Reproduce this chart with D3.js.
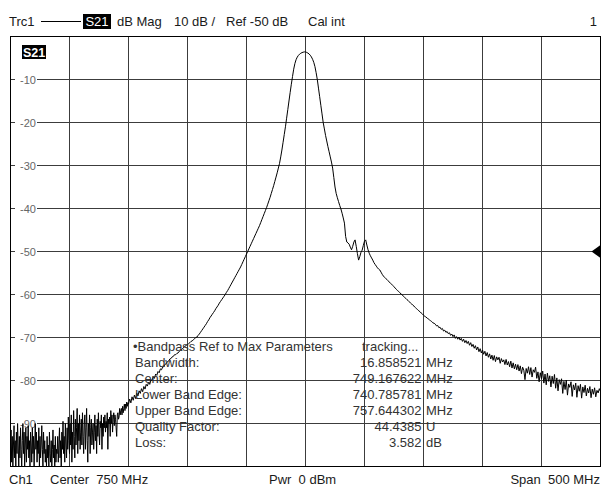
<!DOCTYPE html>
<html><head><meta charset="utf-8">
<script src="https://cdn.jsdelivr.net/npm/d3@7"></script>
<style>
body{margin:0;background:#fff}
svg{display:block}
text{font-family:"Liberation Sans",Arial,sans-serif}
</style>
</head><body>
<svg id="c" width="603" height="487"></svg>
<script>
// ---- data ----
const startMHz = 500;
const stopMHz = 1000;
// noisy low band, 500 .. 599.5 MHz in 0.5 MHz steps
const lowStartMHz = 500, lowStepMHz = 0.5;
const lowBandDb = [
-96,-91.5,-99,-93,-100,-95,-90.5,-98,-94,-100,-92,-97,-90,-95,-100,-93,-98,-91,-96,-100,
-94,-90,-97,-92,-100,-95,-91,-99,-93,-96,-90.5,-98,-94,-100,-92,-95,-99,-91,-97,-93,
-100,-95,-90,-96,-92,-99,-94,-97,-91,-100,-93,-98,-95,-90.5,-96,-100,-92,-97,-94,-99,
-96,-100,-93,-98,-95,-100,-92,-97,-99,-94,-100,-96,-91.5,-98,-95,-100,-93,-99,-96,-97,
-93,-99,-95,-91,-98,-94,-100,-92,-96,-89.5,-97,-93,-99,-90,-95,-98,-91,-96,-88.5,-94,
-97,-90,-95,-88,-99,-92,-96,-87,-93,-98,-89,-95,-91,-86.5,-97,-90,-94,-88,-96,-92,
-89,-95,-87.5,-93,-97,-90,-88,-96,-91,-86.5,-94,-99,-90,-93,-88,-97,-91,-89,-95,-92,
-90,-96,-92,-88,-94,-90.5,-97,-89,-93,-87.5,-92,-95,-89.5,-91,-88,-96,-90,-93,-88.5,-91,
-88,-92,-89.5,-91,-87.5,-96,-89,-90,-88.5,-93,-87,-90,-88,-92,-89,-87.5,-90.5,-88,-89,-91,
-93,-88,-87.5,-89,-88.5,-86.5,-88,-87,-86.5,-88,-86,-87.5,-86.5,-85.5,-87,-85.5,-86.5,-85,-86,-85.2
];
// main band, 600 .. 1000 MHz in 1 MHz steps
const mainStartMHz = 600, mainStepMHz = 1;
const mainBandDb = [
-85.5,-84.3,-85.2,-83.8,-84.6,-83.4,-84.2,-82.9,-83.6,-82.4,
-83.0,-81.9,-82.6,-81.4,-82.0,-80.9,-81.3,-80.4,-80.9,-79.9,
-79.9,-79.1,-79.5,-78.5,-78.8,-77.9,-78.2,-77.3,-77.5,-76.8,
-76.8,-76.2,-76.1,-75.6,-75.5,-75.0,-74.9,-74.5,-74.4,-74.0,
-74.0,-73.7,-73.6,-73.2,-73.0,-72.8,-72.5,-72.3,-72.0,-71.8,
-71.7,-71.4,-71.2,-70.9,-70.8,-70.5,-70.3,-70.0,-69.9,-69.5,
-69.2,-68.8,-68.4,-68.0,-67.6,-67.2,-66.8,-66.3,-65.9,-65.4,
-65.0,-64.6,-64.2,-63.8,-63.3,-62.9,-62.5,-62.0,-61.6,-61.2,
-60.8,-60.4,-60.0,-59.5,-59.1,-58.6,-58.1,-57.6,-57.1,-56.6,
-56.1,-55.6,-55.1,-54.6,-54.1,-53.6,-53.0,-52.4,-51.8,-51.2,
-50.6,-50.0,-49.4,-48.8,-48.2,-47.6,-47.0,-46.4,-45.8,-45.2,
-44.6,-44.0,-43.3,-42.6,-41.9,-41.2,-40.5,-39.8,-39.0,-38.2,
-37.4,-36.5,-35.6,-34.7,-33.7,-32.7,-31.7,-30.6,-29.5,-28.0,
-26.4,-24.6,-22.8,-21.0,-19.0,-17.0,-15.0,-13.0,-11.1,-9.3,
-7.6,-6.3,-5.4,-4.8,-4.4,-4.1,-3.9,-3.75,-3.65,-3.58,
-3.6,-3.7,-3.85,-4.05,-4.35,-4.75,-5.3,-6.0,-7.0,-8.4,
-10.0,-12.0,-14.0,-16.0,-18.0,-20.0,-21.5,-23.0,-24.3,-25.6,
-26.8,-28.0,-29.2,-30.6,-32.8,-35.0,-36.5,-37.5,-38.4,-39.3,
-40.1,-41.1,-42.2,-43.4,-46.5,-47.8,-48.0,-48.3,-49.0,-49.6,
-48.8,-47.8,-47.3,-48.8,-50.5,-52.0,-51.2,-50.2,-49.7,-48.6,
-47.6,-47.3,-48.5,-49.6,-50.4,-51.0,-51.5,-52.0,-52.6,-53.0,
-53.4,-53.8,-54.1,-54.3,-54.8,-55.3,-55.7,-56.0,-56.3,-56.5,
-56.8,-57.1,-57.4,-57.6,-57.9,-58.2,-58.5,-58.8,-59.1,-59.3,
-59.6,-59.9,-60.1,-60.4,-60.7,-60.9,-61.2,-61.4,-61.7,-62.0,
-62.2,-62.5,-62.7,-63.0,-63.3,-63.5,-63.8,-64.0,-64.3,-64.5,
-64.8,-65.0,-65.3,-65.4,-65.7,-65.9,-66.1,-66.3,-66.6,-66.7,
-66.9,-67.3,-67.2,-67.7,-67.6,-68.1,-67.9,-68.5,-68.3,-68.8,
-68.6,-69.1,-68.9,-69.5,-69.2,-69.8,-69.4,-70.2,-69.8,-70.4,
-69.9,-70.6,-70.2,-70.9,-70.4,-71.2,-70.7,-71.4,-70.9,-71.8,
-71.2,-72.1,-71.6,-72.5,-71.9,-72.9,-72.2,-73.3,-72.6,-73.6,
-72.9,-73.9,-73.2,-74.3,-73.5,-74.6,-73.8,-75.0,-74.1,-75.3,
-74.2,-75.6,-74.5,-75.2,-74.6,-76.0,-74.9,-75.7,-75.2,-76.3,
-75.1,-76.4,-75.6,-76.8,-75.5,-77.1,-75.9,-77.3,-76.2,-77.5,
-76.3,-77.8,-76.6,-78.4,-76.9,-77.6,-79.8,-77.2,-78.3,-76.8,
-78.6,-77.0,-79.2,-77.5,-78.1,-76.9,-79.5,-78.0,-80.3,-78.2,
-79.6,-77.8,-80.6,-78.5,-81.0,-78.3,-80.2,-78.9,-81.5,-79.0,
-80.7,-78.6,-81.8,-79.4,-82.4,-79.8,-80.9,-79.6,-83.0,-80.2,
-82.1,-79.9,-83.4,-80.8,-81.6,-80.3,-83.7,-81.0,-82.2,-80.6,
-83.9,-81.2,-82.5,-80.9,-84.1,-81.5,-82.8,-81.1,-83.6,-81.8,
-82.9,-81.4,-84.0,-82.0,-83.2,-81.7,-83.8,-82.3,-82.9,-81.9,
-82.6
];
const yTickValues = [-10,-20,-30,-40,-50,-60,-70,-80,-90];
const yTickLabels = ["-10","-20","-30","-40","-50","-60","-70","-80","-90"];
const yMin = -100, yMax = 0;
const xGridMHz = [550,600,650,700,750,800,850,900,950];
const refLevel = -50;
const traceName = "S21";
const headerParts = ["Trc1", "dB Mag", "10 dB /", "Ref -50 dB", "Cal int", "1"];
const footerParts = ["Ch1", "Center  750 MHz", "Pwr  0 dBm", "Span  500 MHz"];
const paramTitle = "\u2022Bandpass Ref to Max Parameters";
const paramStatus = "tracking...";
const paramLabels = ["Bandwidth:", "Center:", "Lower Band Edge:", "Upper Band Edge:", "Quality Factor:", "Loss:"];
const paramValues = ["16.858521", "749.167622", "740.785781", "757.644302", "44.4385", "3.582"];
const paramUnits = ["MHz", "MHz", "MHz", "MHz", "U", "dB"];

// ---- drawing ----
const svg = d3.select("#c");
const L = 10.5, R = 600.5, T = 36.5, B = 466.5;
const x = d3.scaleLinear().domain([startMHz, stopMHz]).range([L, R]);
const y = d3.scaleLinear().domain([yMin, yMax]).range([B, T]);
const px = v => Math.round(x(v) - 0.5) + 0.5;

svg.append("rect").attr("width", 603).attr("height", 487).attr("fill", "#fff");

const grid = svg.append("g").attr("stroke", "#3c3c3c").attr("stroke-width", 1);
grid.selectAll("line.v").data(xGridMHz).join("line").attr("class", "v")
  .attr("x1", d => px(d)).attr("x2", d => px(d)).attr("y1", T).attr("y2", B);
grid.selectAll("line.h").data(yTickValues).join("line").attr("class", "h")
  .attr("x1", L).attr("x2", R).attr("y1", d => y(d)).attr("y2", d => y(d));

// y labels with white background
const lab = svg.append("g");
lab.selectAll("rect").data(yTickValues).join("rect")
  .attr("x", 15).attr("y", d => y(d) - 6).attr("width", 22).attr("height", 12).attr("fill", "#fff");
lab.selectAll("text").data(yTickValues).join("text")
  .attr("x", 20).attr("y", d => y(d) + 4).attr("font-size", 11).attr("fill", "#666")
  .text((d, i) => yTickLabels[i]);

// trace
svg.append("clipPath").attr("id", "clip").append("rect")
  .attr("x", L).attr("y", T).attr("width", R - L).attr("height", B - T);
const pts = lowBandDb.map((v, j) => [lowStartMHz + j * lowStepMHz, v])
  .concat(mainBandDb.map((v, i) => [mainStartMHz + i * mainStepMHz, v]));
svg.append("path").datum(pts)
  .attr("clip-path", "url(#clip)")
  .attr("fill", "none").attr("stroke", "#000").attr("stroke-width", 1)
  .attr("d", d3.line().x(d => x(d[0])).y(d => y(Math.max(yMin - 1, d[1]))));

// border
svg.append("rect").attr("x", L).attr("y", T).attr("width", R - L).attr("height", B - T)
  .attr("fill", "none").attr("stroke", "#000").attr("stroke-width", 1);

// legend box S21 inside plot
svg.append("rect").attr("x", 22).attr("y", 45).attr("width", 24).attr("height", 14).attr("fill", "#000");
svg.append("text").attr("x", 34).attr("y", 56.5).attr("text-anchor", "middle")
  .attr("font-size", 12.5).attr("font-weight", "bold").attr("fill", "#fff").text(traceName);

// reference marker
const yr = y(refLevel);
svg.append("path").attr("d", `M${R},${yr - 6.5} L${R - 9},${yr} L${R},${yr + 6.5} Z`).attr("fill", "#000");

// header
const hy = 26;
const hdr = svg.append("g").attr("font-size", 13).attr("fill", "#1a1a1a");
hdr.append("text").attr("x", 9).attr("y", hy).text(headerParts[0]);
hdr.append("line").attr("x1", 41).attr("x2", 81).attr("y1", hy - 4.5).attr("y2", hy - 4.5).attr("stroke", "#000").attr("stroke-width", 1);
hdr.append("rect").attr("x", 83).attr("y", hy - 12).attr("width", 28).attr("height", 15).attr("fill", "#000");
hdr.append("text").attr("x", 97).attr("y", hy).attr("text-anchor", "middle").attr("fill", "#fff").text(traceName);
hdr.append("text").attr("x", 117).attr("y", hy).text(headerParts[1]);
hdr.append("text").attr("x", 174).attr("y", hy).text(headerParts[2]);
hdr.append("text").attr("x", 226).attr("y", hy).text(headerParts[3]);
hdr.append("text").attr("x", 308).attr("y", hy).text(headerParts[4]);
hdr.append("text").attr("x", 597).attr("y", hy).attr("text-anchor", "end").text(headerParts[5]);

// footer
const ftr = svg.append("g").attr("font-size", 13).attr("fill", "#1a1a1a");
ftr.append("text").attr("x", 9).attr("y", 484).text(footerParts[0]);
ftr.append("text").attr("x", 50).attr("y", 484).style("white-space", "pre").text(footerParts[1]);
ftr.append("text").attr("x", 269).attr("y", 484).style("white-space", "pre").text(footerParts[2]);
ftr.append("text").attr("x", 600).attr("y", 484).attr("text-anchor", "end").style("white-space", "pre").text(footerParts[3]);

// parameter block
const pb = svg.append("g").attr("font-size", 13).attr("fill", "#333");
pb.append("text").attr("x", 133).attr("y", 350.5).text(paramTitle);
pb.append("text").attr("x", 362).attr("y", 350.5).text(paramStatus);
paramLabels.forEach((l, i) => {
  const yy = 366.5 + i * 16;
  pb.append("text").attr("x", 135).attr("y", yy).text(l);
  pb.append("text").attr("x", 421.5).attr("y", yy).attr("text-anchor", "end").text(paramValues[i]);
  pb.append("text").attr("x", 426).attr("y", yy).text(paramUnits[i]);
});
</script>
</body></html>
